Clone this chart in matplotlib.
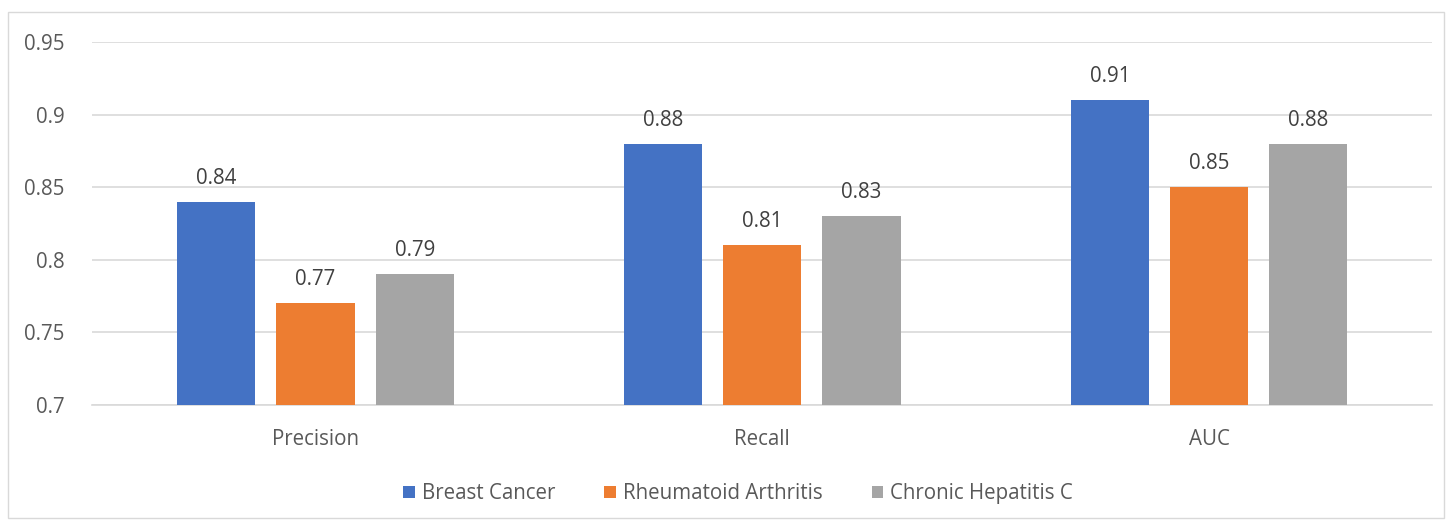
import numpy as np
import matplotlib.pyplot as plt
from matplotlib.patches import Rectangle

plt.switch_backend('agg')
plt.rcParams['font.family'] = ['Open Sans', 'DejaVu Sans']

metrics = ['Precision', 'Recall', 'AUC']
diseases = ['Breast Cancer', 'Rheumatoid Arthritis', 'Chronic Hepatitis C']
breast_cancer = [0.84, 0.88, 0.91]
rheumatoid_arthritis = [0.77, 0.81, 0.85]
hepatitis_c = [0.79, 0.83, 0.88]
yticks = [0.7, 0.75, 0.8, 0.85, 0.9, 0.95]
ytick_labels = ['0.7', '0.75', '0.8', '0.85', '0.9', '0.95']

colors = ['#4472c4', '#ed7d31', '#a5a5a5']
text_color = '#595959'
fs = 14.8

fig = plt.figure(figsize=(14.52, 5.2), dpi=100)
ax = fig.add_axes([0.0635, 0.221, 0.923, 0.698])

# outer chart frame
fig.patches.append(Rectangle((8 / 1452, 2 / 520), 1436 / 1452, 506 / 520,
                             transform=fig.transFigure, fill=False,
                             edgecolor='#d9d9d9', linewidth=1))

x = np.arange(len(metrics))
width = 0.175
step = 0.222
series = [breast_cancer, rheumatoid_arthritis, hepatitis_c]
for i, (vals, name) in enumerate(zip(series, diseases)):
    pos = x + (i - 1) * step
    ax.bar(pos, np.array(vals) - 0.7, width, bottom=0.7,
           color=colors[i], label=name, zorder=3)
    for xp, v in zip(pos, vals):
        ax.text(xp, v + 0.009, f'{v:g}', ha='center', va='bottom',
                fontsize=fs, color='#404040')

ax.set_xlim(-0.5, 2.5)
ax.set_ylim(0.7, 0.95)
ax.set_yticks(yticks)
ax.set_yticklabels(ytick_labels)
ax.set_xticks(x)
ax.set_xticklabels(metrics)
ax.tick_params(length=0, labelsize=fs, colors=text_color)
ax.tick_params(axis='y', pad=20)
ax.tick_params(axis='x', pad=17)
ax.grid(axis='y', color='#d9d9d9', linewidth=1.2, zorder=0)
for s in ['top', 'right', 'left']:
    ax.spines[s].set_visible(False)
ax.spines['bottom'].set_color('#d9d9d9')
ax.spines['bottom'].set_linewidth(1.2)

ax.legend(loc='upper center', bbox_to_anchor=(0.482, -0.165), ncol=3,
          frameon=False, fontsize=fs, handlelength=0.55, handleheight=0.55,
          handletextpad=0.35, columnspacing=2.4, labelcolor=text_color)

fig.savefig('out.png', dpi=100)
